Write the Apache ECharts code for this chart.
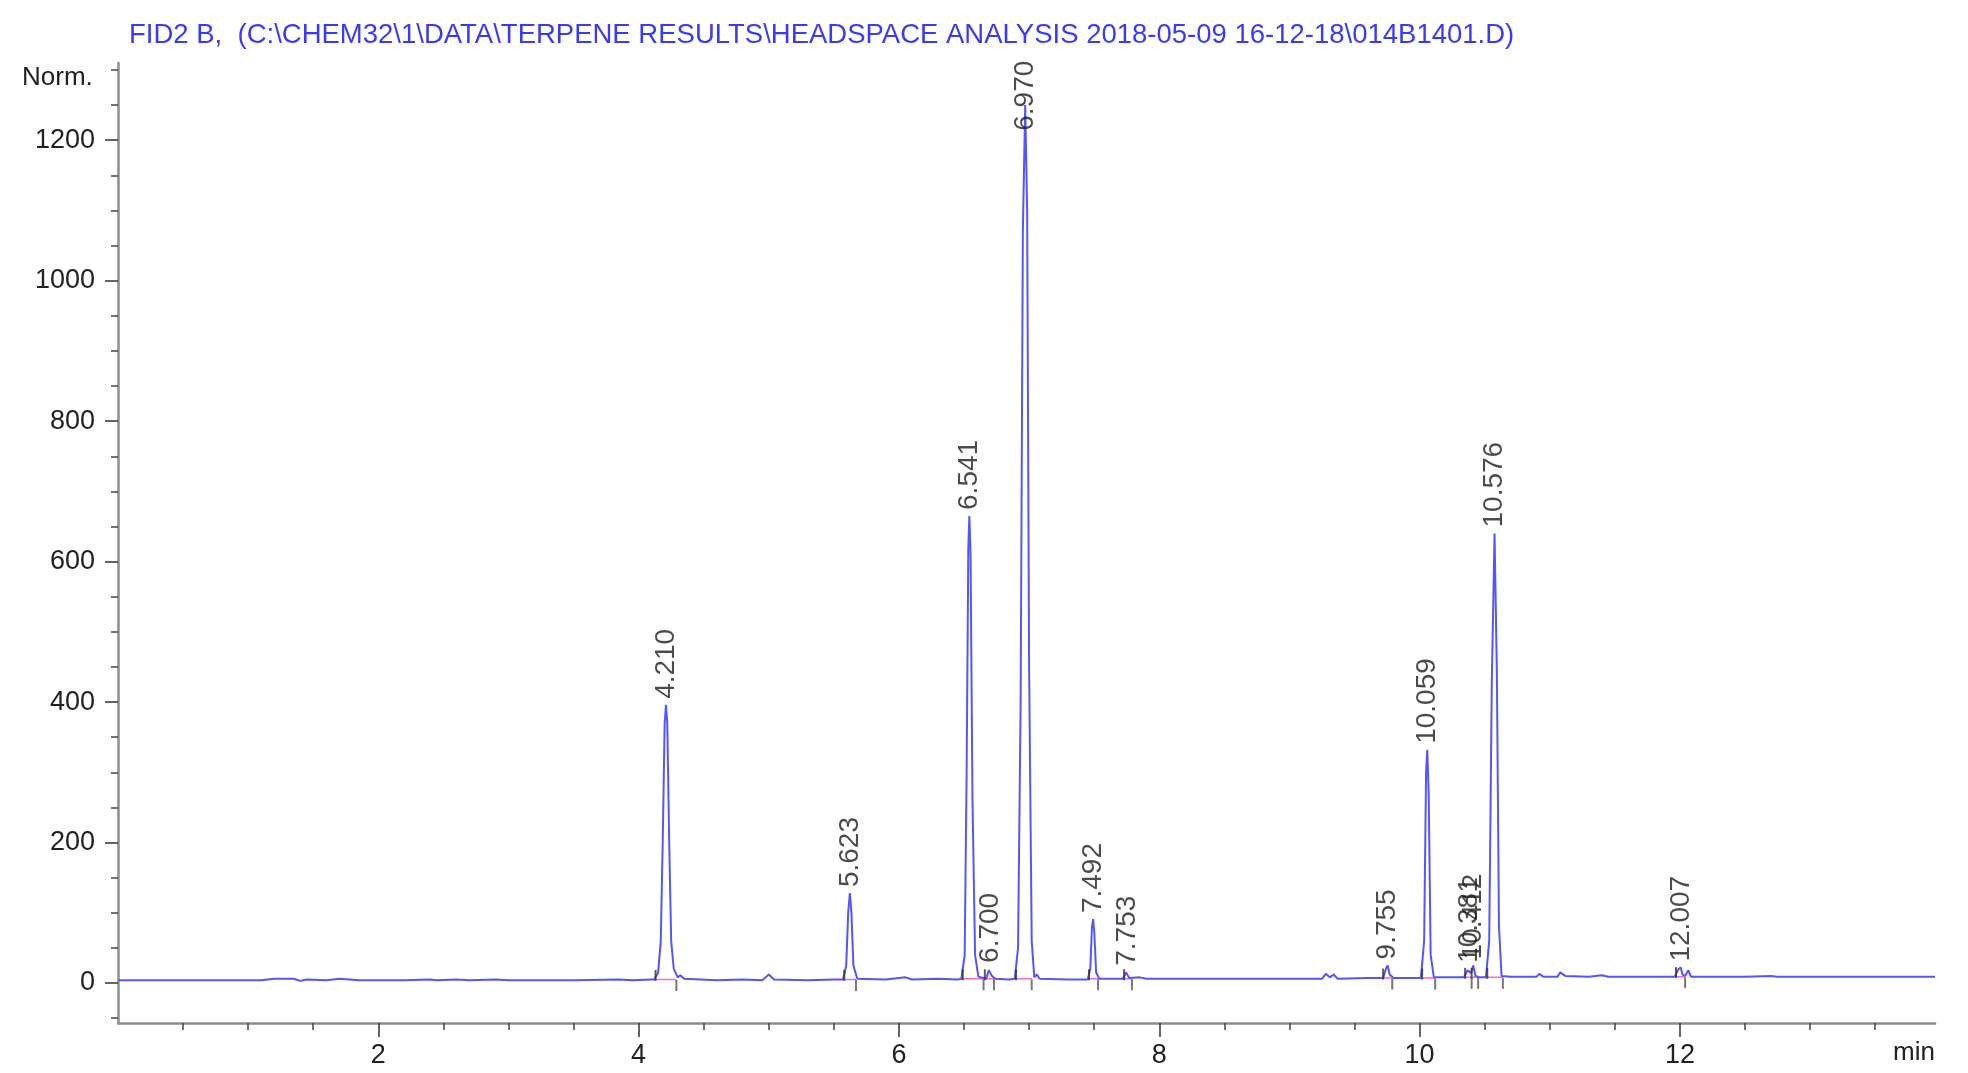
<!DOCTYPE html>
<html>
<head>
<meta charset="utf-8">
<script src="https://cdn.jsdelivr.net/npm/echarts@6/dist/echarts.min.js"></script>
<style>
html,body{margin:0;padding:0;background:#fff;}
#chart{width:1968px;height:1073px;}
</style>
</head>
<body>
<div id="chart"></div>
<script>
// ---- Data ----
const titleText = "FID2 B,  (C:\\CHEM32\\1\\DATA\\TERPENE RESULTS\\HEADSPACE ANALYSIS 2018-05-09 16-12-18\\014B1401.D)";
const yMajorTicks = [0, 200, 400, 600, 800, 1000, 1200];
const yMinorTicks = [-50, 50, 100, 150, 250, 300, 350, 450, 500, 550, 650, 700, 750, 850, 900, 950, 1050, 1100, 1150, 1250, 1300];
const xMajorTicks = [2, 4, 6, 8, 10, 12];
const xMinorTicks = [0.5, 1, 1.5, 2.5, 3, 3.5, 4.5, 5, 5.5, 6.5, 7, 7.5, 8.5, 9, 9.5, 10.5, 11, 11.5, 12.5, 13, 13.5];

// retention times and apex heights of integrated peaks
const peakRT = ["4.210", "5.623", "6.541", "6.700", "6.970", "7.492", "7.753", "9.755", "10.059", "10.381", "10.412", "10.576", "12.007"];
const peakHeight = [396, 128, 665, 20, 1250, 91, 16, 25, 332, 20, 25, 640, 22];

// peak start / end markers (min)
const peakStarts = [4.13, 5.58, 6.49, 6.66, 6.90, 7.46, 7.73, 9.72, 10.02, 10.35, 10.40, 10.52, 11.97];
const peakEnds = [4.29, 5.67, 6.65, 6.73, 7.02, 7.53, 7.79, 9.79, 10.12, 10.40, 10.45, 10.64, 12.04];
const baselineLevel = [5, 5, 6, 6, 6, 6, 6, 7, 7, 8, 8, 8, 9];

// signal trace [time (min), response]
const trace = [
  [0.0, 4], [0.6, 4], [1.1, 4], [1.2, 6], [1.35, 6], [1.4, 3], [1.45, 5], [1.6, 4], [1.7, 6], [1.78, 5], [1.85, 4],
  [2.2, 4], [2.4, 5], [2.45, 4], [2.6, 5], [2.7, 4], [2.9, 5], [3.0, 4], [3.5, 4], [3.85, 5], [3.95, 4], [4.1, 5],
  [4.12, 5], [4.15, 15], [4.17, 60], [4.185, 200], [4.2, 370], [4.21, 396], [4.22, 370], [4.235, 200], [4.25, 60], [4.27, 20], [4.30, 8], [4.32, 11], [4.35, 6],
  [4.6, 4], [4.8, 5], [4.95, 4], [5.0, 12], [5.04, 5], [5.3, 4], [5.5, 5],
  [5.57, 5], [5.595, 25], [5.61, 100], [5.623, 128], [5.635, 100], [5.65, 25], [5.68, 6],
  [5.9, 5], [6.05, 8], [6.1, 5], [6.3, 6], [6.45, 5],
  [6.48, 6], [6.505, 40], [6.52, 300], [6.533, 620], [6.541, 665], [6.55, 610], [6.565, 260], [6.585, 40], [6.61, 9], [6.65, 7],
  [6.67, 6], [6.69, 18], [6.70, 20], [6.715, 10], [6.74, 6], [6.85, 5],
  [6.89, 6], [6.915, 50], [6.935, 400], [6.952, 1070], [6.97, 1250], [6.985, 1100], [7.0, 450], [7.02, 60], [7.04, 8], [7.06, 12], [7.08, 6],
  [7.3, 5], [7.45, 5], [7.47, 20], [7.483, 80], [7.492, 91], [7.50, 75], [7.515, 15], [7.54, 6],
  [7.72, 6], [7.745, 15], [7.753, 16], [7.77, 7], [7.85, 8], [7.9, 6],
  [8.5, 6], [9.0, 6], [9.25, 6], [9.28, 13], [9.31, 8], [9.34, 12], [9.37, 6], [9.6, 7],
  [9.72, 7], [9.745, 22], [9.755, 25], [9.77, 12], [9.8, 7], [9.95, 7],
  [10.01, 7], [10.035, 60], [10.05, 300], [10.059, 332], [10.07, 270], [10.085, 40], [10.11, 8], [10.3, 8],
  [10.34, 8], [10.37, 18], [10.381, 20], [10.395, 14], [10.412, 25], [10.43, 10], [10.46, 8],
  [10.51, 8], [10.535, 60], [10.555, 430], [10.576, 640], [10.594, 440], [10.61, 80], [10.63, 10], [10.7, 9],
  [10.9, 9], [10.92, 13], [10.95, 9], [11.06, 9], [11.08, 15], [11.12, 10], [11.3, 9], [11.4, 11], [11.45, 9],
  [11.9, 9], [11.96, 9], [11.99, 20], [12.007, 22], [12.02, 12], [12.04, 10], [12.065, 18], [12.085, 9],
  [12.5, 9], [12.7, 10], [12.75, 9], [13.3, 9], [13.96, 9]
];

// ---- Build chart ----
const labelData = peakRT.map((rt, i) => ({
  value: [parseFloat(rt), Math.min(peakHeight[i], 1205)],
  name: rt
}));
const startMarks = peakStarts.map((t, i) => [t, baselineLevel[i]]);
const endMarks = peakEnds.map((t, i) => [t, baselineLevel[i]]);
const baseSegs = [];
peakStarts.forEach((t, i) => {
  baseSegs.push([t, baselineLevel[i]]);
  baseSegs.push([peakEnds[i], baselineLevel[i]]);
  baseSegs.push('-');
});

const FONT = "Liberation Sans, Arial, sans-serif";
const chart = echarts.init(document.getElementById('chart'), null, {renderer: 'canvas'});
chart.setOption({
  animation: false,
  backgroundColor: '#ffffff',
  grid: {left: 118, right: 33, top: 63, bottom: 50, containLabel: false},
  title: {
    text: titleText, left: 124, top: 16,
    textStyle: {color: '#3a3aff', fontSize: 27.5, fontWeight: 'normal', fontFamily: FONT}
  },
  graphic: [
    {type: 'text', left: 22, top: 65, style: {text: 'Norm.', fill: '#222', font: '26px ' + FONT}},
    {type: 'text', left: 1893, top: 1040, style: {text: 'min', fill: '#222', font: '26px ' + FONT}}
  ],
  xAxis: [
    {
      type: 'value', min: 0, max: 13.96, position: 'bottom',
      axisLine: {show: true, onZero: false, lineStyle: {color: '#8c8c8c', width: 2.5}},
      axisTick: {show: true, length: 14, inside: false, customValues: xMajorTicks, lineStyle: {color: '#333', width: 1.5}},
      axisLabel: {show: true, customValues: xMajorTicks, margin: 19, color: '#222', fontSize: 27, fontFamily: FONT},
      splitLine: {show: false}
    },
    {
      type: 'value', min: 0, max: 13.96, position: 'bottom',
      axisLine: {show: false, onZero: false},
      axisTick: {show: true, length: 7, customValues: xMinorTicks, lineStyle: {color: '#444', width: 1.5}},
      axisLabel: {show: false},
      splitLine: {show: false}
    }
  ],
  yAxis: [
    {
      type: 'value', min: -57, max: 1310, position: 'left',
      axisLine: {show: true, onZero: false, lineStyle: {color: '#8c8c8c', width: 2.5}},
      axisTick: {show: true, length: 13, customValues: yMajorTicks, lineStyle: {color: '#333', width: 1.5}},
      axisLabel: {show: true, customValues: yMajorTicks, margin: 23, color: '#222', fontSize: 27, fontFamily: FONT,
                  formatter: v => String(v)},
      splitLine: {show: false}
    },
    {
      type: 'value', min: -57, max: 1310, position: 'left',
      axisLine: {show: false, onZero: false},
      axisTick: {show: true, length: 7, customValues: yMinorTicks, lineStyle: {color: '#444', width: 1.5}},
      axisLabel: {show: false},
      splitLine: {show: false}
    }
  ],
  series: [
    {
      name: 'baseline', type: 'line', data: baseSegs, xAxisIndex: 0, yAxisIndex: 0,
      symbol: 'none', connectNulls: false, silent: true,
      lineStyle: {color: '#ff66cc', width: 1.5}, z: 2
    },
    {
      name: 'FID2 B', type: 'line', data: trace, xAxisIndex: 0, yAxisIndex: 0,
      symbol: 'none', smooth: false, silent: true,
      lineStyle: {color: '#5555ff', width: 2}, z: 3
    },
    {
      name: 'start', type: 'scatter', data: startMarks, symbol: 'rect', symbolSize: [2, 11],
      symbolOffset: [0, -4], itemStyle: {color: '#333'}, silent: true, z: 4
    },
    {
      name: 'end', type: 'scatter', data: endMarks, symbol: 'rect', symbolSize: [2, 11],
      symbolOffset: [0, 6], itemStyle: {color: '#555'}, silent: true, z: 4
    },
    {
      name: 'labels', type: 'scatter', data: labelData, symbolSize: 0, silent: true, z: 5,
      label: {
        show: true, position: 'top', distance: 6, rotate: 90, align: 'left', verticalAlign: 'middle',
        formatter: p => p.name, color: '#1e1e1e', fontSize: 28, fontFamily: FONT
      }
    }
  ]
});
</script>
</body>
</html>
